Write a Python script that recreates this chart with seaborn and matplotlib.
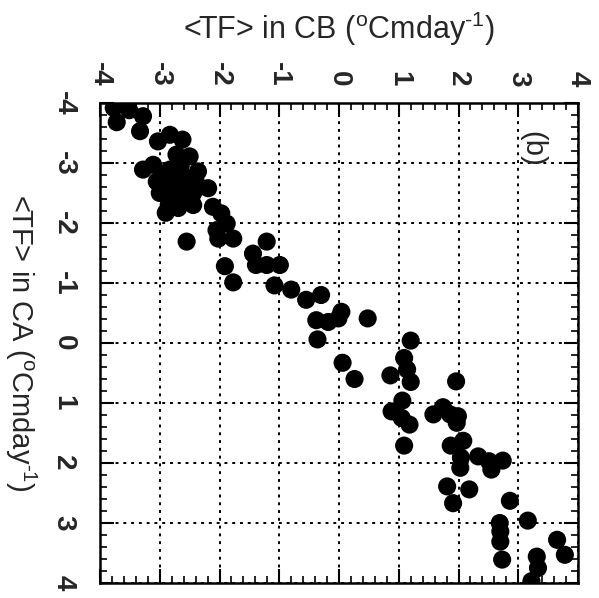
import matplotlib
matplotlib.use("Agg")
import matplotlib.pyplot as plt
import seaborn as sns
import pandas as pd
from matplotlib.ticker import MultipleLocator

# <TF> in CB (x, top axis) and <TF> in CA (y, left axis, increasing downward)
tf_cb = [-3.77, -3.51, -3.28, -3.72, -3.33, -3.03, -2.83, -2.62, -2.72, -2.50,
         -3.28, -3.11, -3.05, -2.83, -2.72, -2.89, -2.80, -2.61, -2.50, -2.36,
         -2.44, -2.19, -2.90, -2.69, -2.44, -2.55, -2.11, -1.97, -1.88, -2.05,
         -2.02, -1.77, -1.91, -1.77, -1.44, -1.21, -1.39, -1.21, -0.99, -1.08,
         -0.80, -0.55, -0.30, -0.38, -0.18, 0.04, -0.01, -0.36,
         -2.95, -2.75, -2.60, -2.85, -2.55, -2.65, -3.00, -2.40,
         0.48, 1.20, 0.06, 0.26, 0.86, 1.09, 1.14, 1.20, 1.96, 1.06,
         0.88, 1.05, 1.18, 1.09, 1.58, 1.74, 1.86, 1.99, 1.97, 2.08,
         1.87, 2.04, 2.03, 2.33, 2.51, 2.55, 2.74, 1.81, 2.18, 1.91,
         2.86, 3.16, 2.69, 2.70, 2.70, 2.73, 3.65, 3.78, 3.31, 3.33, 3.22]
tf_ca = [-3.92, -3.88, -3.78, -3.68, -3.53, -3.36, -3.47, -3.39, -3.14, -3.11,
         -2.89, -2.97, -2.69, -2.89, -2.72, -2.55, -2.44, -2.55, -2.66, -2.86,
         -2.50, -2.58, -2.17, -2.25, -2.30, -1.69, -2.27, -2.16, -1.99, -1.88,
         -1.74, -1.74, -1.28, -1.01, -1.49, -1.69, -1.30, -1.30, -1.30, -0.96,
         -0.89, -0.72, -0.80, -0.38, -0.35, -0.52, -0.41, -0.06,
         -2.75, -2.60, -2.40, -2.30, -2.75, -2.95, -2.50, -2.70,
         -0.41, -0.04, 0.33, 0.60, 0.54, 0.25, 0.44, 0.65, 0.64, 0.96,
         1.14, 1.25, 1.36, 1.71, 1.19, 1.07, 1.19, 1.22, 1.33, 1.63,
         1.71, 1.91, 2.08, 1.89, 1.97, 2.11, 1.96, 2.39, 2.44, 2.67,
         2.63, 2.96, 3.00, 3.14, 3.31, 3.61, 3.28, 3.53, 3.56, 3.75, 3.97]

tick_vals = [-4, -3, -2, -1, 0, 1, 2, 3, 4]
tick_labels = ["-4", "-3", "-2", "-1", "0", "1", "2", "3", "4"]

df = pd.DataFrame({"cb": tf_cb, "ca": tf_ca})

sns.set_style("white")
plt.rcParams["font.family"] = ["Liberation Sans", "DejaVu Sans"]
plt.rcParams["mathtext.fontset"] = "custom"
plt.rcParams["mathtext.rm"] = "Liberation Sans"
plt.rcParams["mathtext.it"] = "Liberation Sans"

fig = plt.figure(figsize=(5.99, 5.98), dpi=100)
ax = fig.add_axes([100 / 599, 1 - 583 / 598, 478 / 599, 480 / 598])

sns.scatterplot(data=df, x="cb", y="ca", ax=ax, color="black", s=170,
                edgecolor="none", linewidth=0, zorder=3, legend=False)

ax.set_xlim(-4, 4)
ax.set_ylim(4, -4)
ax.set_xticks(tick_vals)
ax.set_xticklabels(tick_labels, fontweight="bold")
ax.set_yticks(tick_vals)
ax.set_yticklabels(tick_labels, fontweight="bold")
ax.xaxis.set_minor_locator(MultipleLocator(0.2))
ax.yaxis.set_minor_locator(MultipleLocator(0.2))

ax.tick_params(which="both", direction="in", top=True, bottom=True,
               left=True, right=True, labeltop=True, labelbottom=False,
               labelleft=True, labelright=False, color="black")
ax.tick_params(which="major", length=10, width=1.5)
ax.tick_params(which="minor", length=5, width=1.2)
ax.tick_params(axis="x", labelsize=20, pad=12, labelrotation=-90)
ax.tick_params(axis="y", labelsize=20, pad=17, labelrotation=-90)
for lab in ax.get_yticklabels():
    lab.set_va("center")
    lab.set_ha("right")

ax.grid(True, which="major", linestyle=(0, (1.5, 2.5)), color="black", linewidth=1.4)
ax.set_axisbelow(True)
for sp in ax.spines.values():
    sp.set_color("black")
    sp.set_linewidth(1.8)

label_cb = "<TF> in CB ($^{\\rm o}$Cmday$^{\\rm \u2010 1}$)"
label_ca = "<TF> in CA ($^{\\rm o}$Cmday$^{\\rm \u2010 1}$)"

ax.xaxis.set_label_position("top")
ax.set_xlabel(label_cb, fontsize=22, va="center")
ax.xaxis.set_label_coords(0.5, 1 + (103 - 29) / 480)
ax.set_ylabel(label_ca, fontsize=21, rotation=-90, va="center", ha="center")
ax.yaxis.set_label_coords((21 - 100) / 478, 0.5)

ax.text(3.24, -3.23, "(b)", rotation=-90, ha="center", va="center",
        fontsize=21, zorder=4)

fig.savefig("out.png", dpi=100)
